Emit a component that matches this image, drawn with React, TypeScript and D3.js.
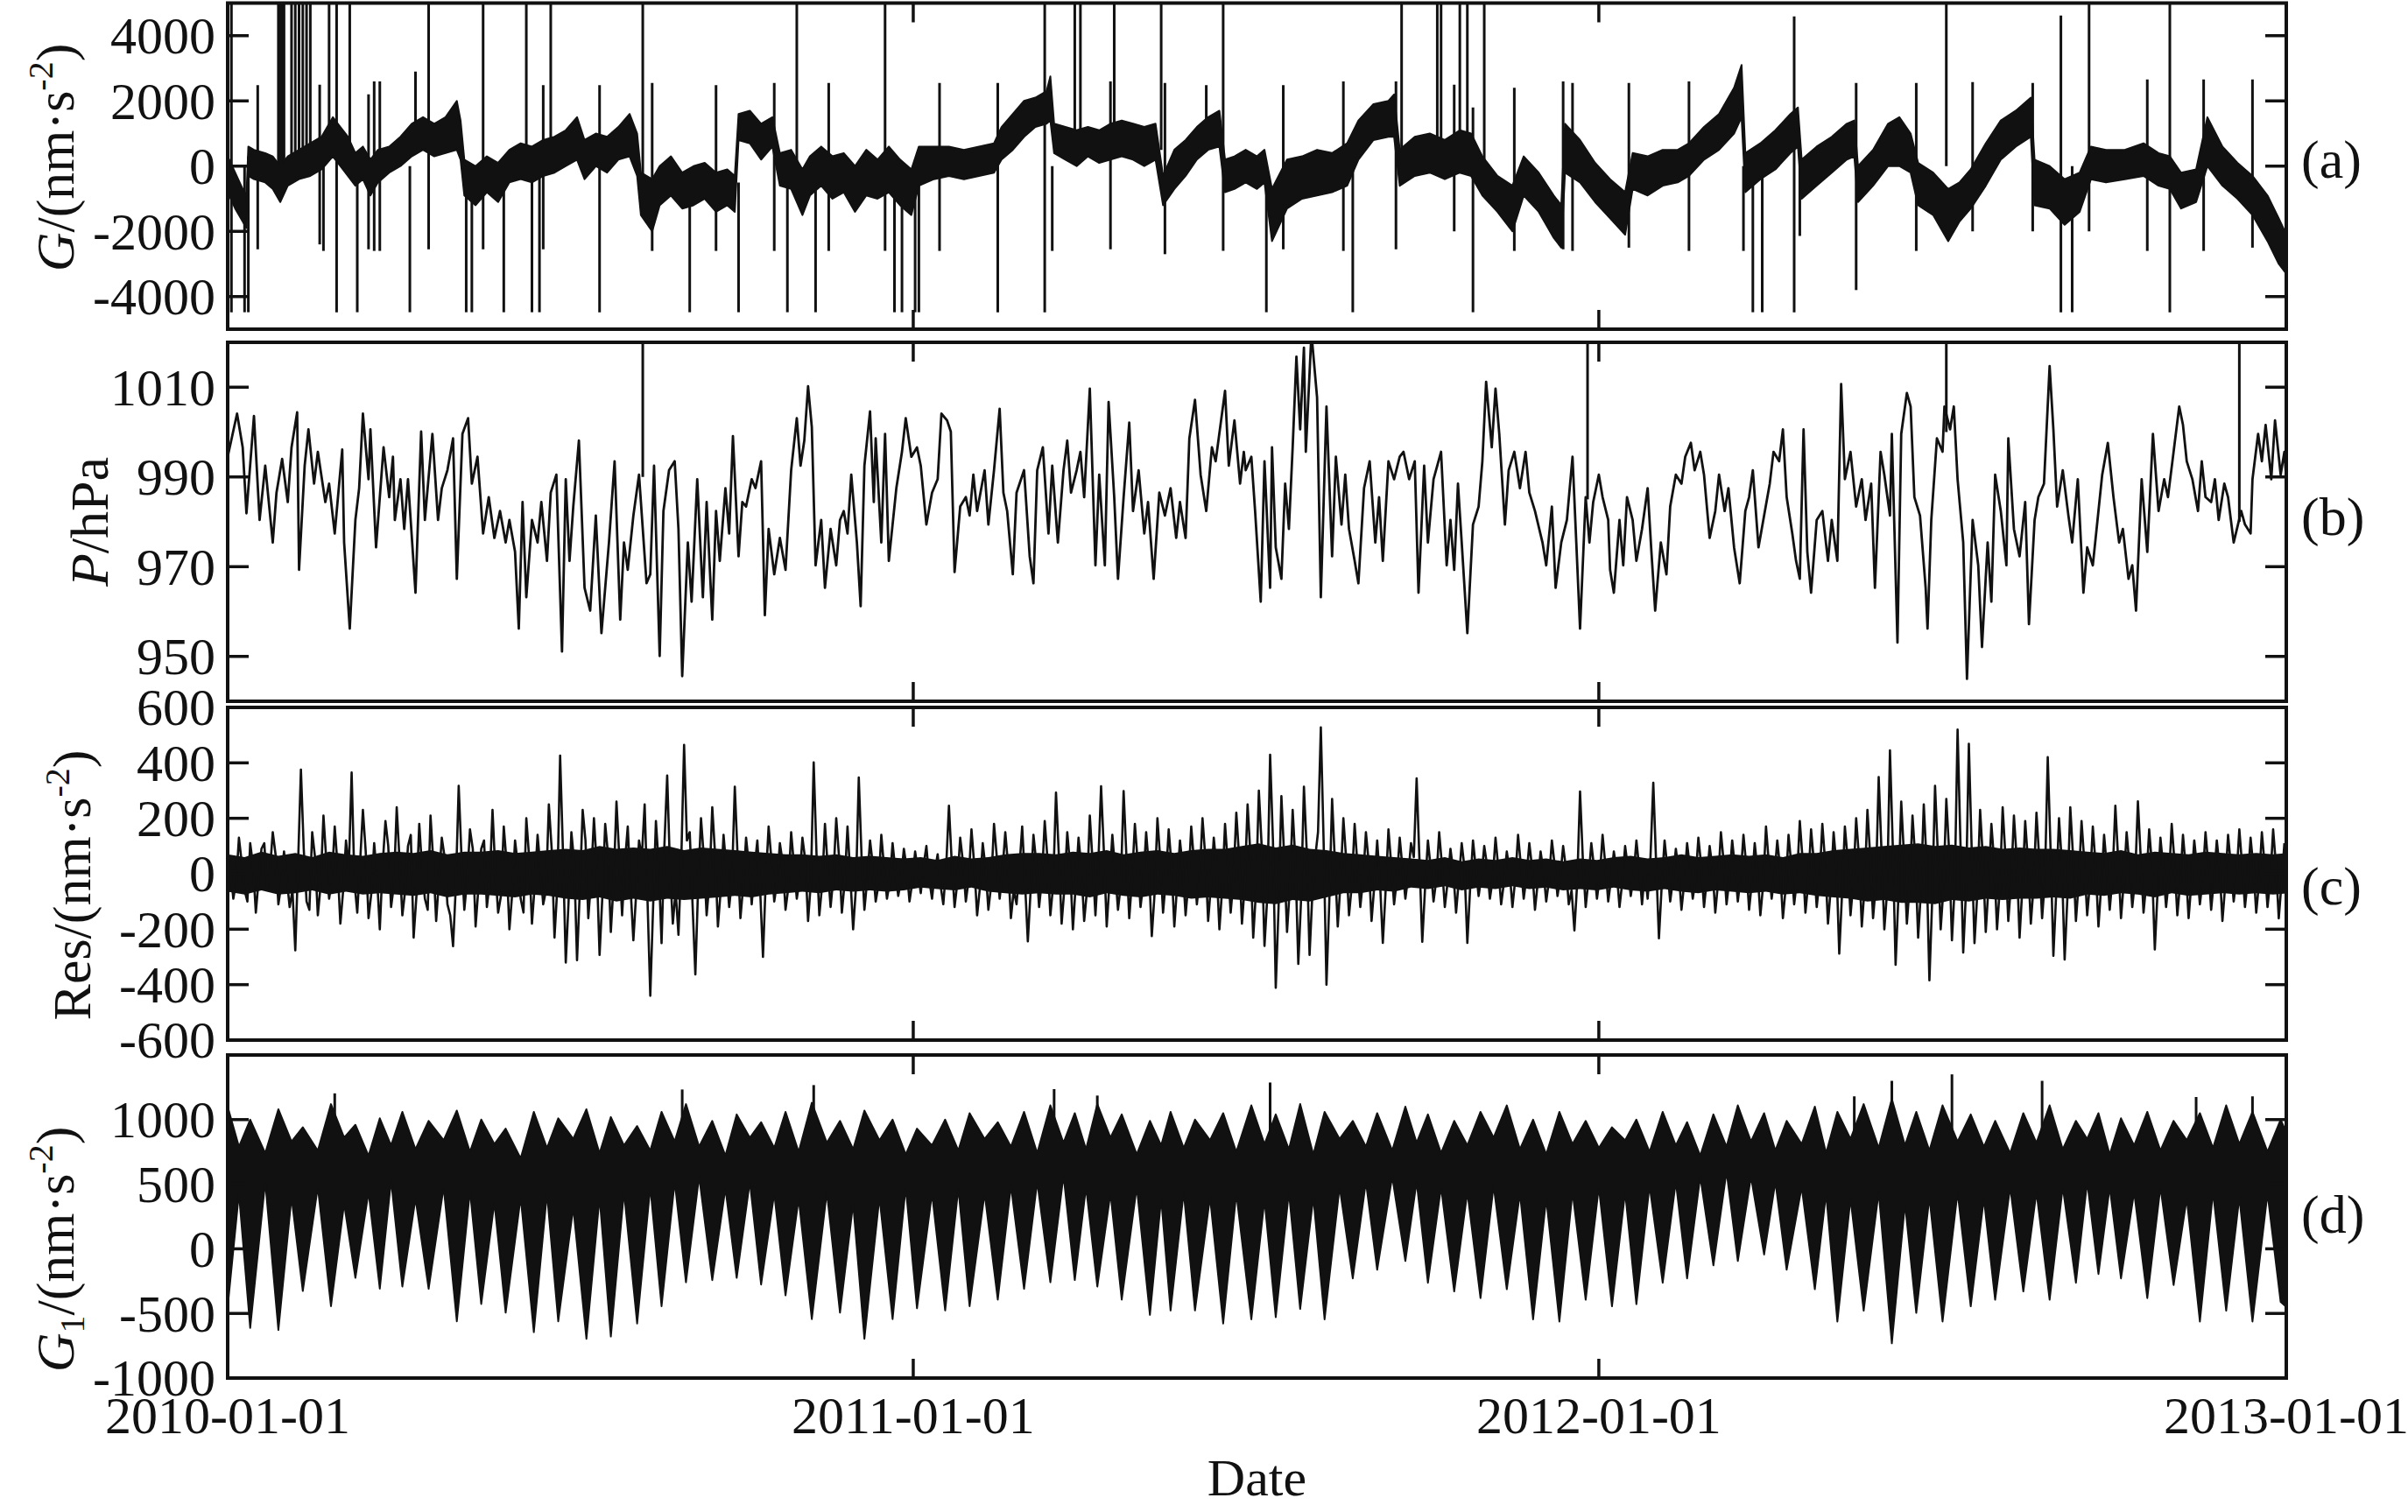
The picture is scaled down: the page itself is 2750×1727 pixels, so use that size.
import React, { useEffect } from 'react';
import * as d3 from 'd3';

// ---------------- data ----------------
const dateTickLabels = ['2010-01-01', '2011-01-01', '2012-01-01', '2013-01-01'];
const gTicks = [-4000, -2000, 0, 2000, 4000];
const pTicks = [950, 970, 990, 1010];
const resTicks = [-600, -400, -200, 0, 200, 400, 600];
const g1Ticks = [-1000, -500, 0, 500, 1000];

// (a) gravity G: band envelope (days since 2010-01-01)
const gDays = [0, 4, 8, 10, 11, 14, 20, 24, 28, 32, 38, 44, 50, 56, 60, 64, 68, 72, 76, 80, 86, 92, 98, 104, 110, 116, 122, 124, 126, 132, 138, 144, 150, 156, 162, 168, 174, 180, 186, 190, 196, 202, 208, 214, 218, 220, 226, 230, 236, 242, 248, 254, 260, 266, 270, 272, 278, 284, 290, 294, 300, 306, 310, 316, 322, 328, 334, 340, 346, 352, 358, 364, 368, 376, 384, 392, 400, 408, 412, 418, 424, 430, 436, 438, 440, 446, 452, 458, 464, 470, 476, 482, 488, 494, 498, 504, 510, 516, 522, 528, 531, 536, 542, 548, 552, 556, 564, 572, 580, 588, 596, 602, 610, 618, 621, 624, 632, 640, 648, 656, 662, 668, 676, 684, 690, 698, 706, 710, 712, 720, 728, 736, 744, 748, 756, 764, 772, 778, 786, 794, 802, 806, 808, 816, 824, 832, 836, 838, 846, 854, 862, 866, 868, 876, 884, 890, 896, 900, 908, 916, 922, 928, 936, 944, 952, 960, 962, 970, 978, 986, 992, 1000, 1010, 1020, 1028, 1034, 1040, 1048, 1054, 1062, 1070, 1078, 1086, 1092, 1096];
const gLow = [-800, -1300, -1700, -1900, -300, -400, -500, -700, -1100, -600, -400, -300, -100, 300, 0, -300, -600, -400, -900, -500, -200, 0, 300, 500, 300, 400, 500, 200, -900, -1200, -800, -1100, -500, -400, -500, -300, -200, 0, 200, -400, 0, -200, 200, 300, -300, -1500, -2000, -1200, -900, -1300, -1200, -1000, -1400, -1200, -1400, 800, 700, 200, 600, -600, -700, -1500, -900, -600, -1000, -800, -1400, -900, -1000, -800, -1200, -1500, -600, -400, -300, -400, -300, -200, 200, 500, 900, 1200, 1300, 1400, 400, 200, 0, 300, 100, 200, 300, 200, 0, 200, -1200, -700, -300, 200, 500, 600, -800, -700, -500, -700, -500, -2300, -1300, -1000, -900, -800, -600, 200, 800, 900, 900, -600, -300, -200, -400, -200, -300, -900, -1400, -2000, -900, -1400, -2200, -2500, -200, -500, -1100, -1600, -2100, -700, -900, -600, -500, -300, 200, 500, 1000, 1500, -800, -400, -100, 400, 600, -1000, -600, -200, 200, 300, -1100, -600, 0, 0, -200, -1200, -1500, -2300, -1700, -1300, -600, 200, 600, 900, -1200, -1300, -1800, -1400, -400, -500, -400, -300, -600, -700, -1300, -1100, 0, -600, -1000, -1500, -2300, -3000, -3300];
const gHigh = [300, -200, -700, -900, 600, 500, 400, 300, 0, 300, 500, 700, 900, 1500, 1200, 900, 400, 600, 200, 500, 600, 900, 1300, 1500, 1300, 1500, 2000, 1400, 200, 0, 300, 100, 500, 700, 600, 800, 900, 1100, 1500, 800, 1000, 900, 1200, 1600, 1000, -200, -400, 0, 300, -200, 0, 100, -200, -100, -300, 1600, 1700, 1300, 1500, 400, 500, -100, 300, 600, 300, 400, 0, 500, 200, 600, 200, -100, 600, 600, 600, 500, 600, 700, 1200, 1600, 2000, 2100, 2300, 2750, 1300, 1200, 1100, 1200, 1100, 1300, 1400, 1300, 1200, 1300, -300, 500, 800, 1200, 1500, 1700, 200, 300, 500, 300, 500, -700, 200, 300, 500, 400, 700, 1400, 1900, 2000, 2200, 500, 900, 1000, 800, 1100, 1000, 300, -300, -600, 300, -200, -900, -1200, 1300, 800, 100, -400, -800, 400, 300, 500, 500, 700, 1200, 1600, 2400, 3100, 400, 700, 1100, 1600, 1800, 200, 600, 900, 1300, 1400, 0, 500, 1300, 1500, 1000, 100, -200, -700, -500, -100, 700, 1400, 1700, 2100, 200, 0, -400, -200, 600, 500, 500, 700, 400, 300, -200, -100, 1500, 600, 100, -300, -900, -1600, -2100];

// (a) spikes: vertical lines from low to high
const gSpikeDays = [2, 9, 11, 16, 27, 28, 29, 30, 34, 36,
  38, 40, 42, 44, 49, 51, 54, 58, 65, 69,
  75, 78, 81, 97, 100, 107, 127, 130, 136, 147,
  159, 162, 166, 168, 172, 198, 221, 226, 246, 260,
  272, 291, 298, 303, 313, 320, 350, 355, 359, 366,
  368, 379, 410, 435, 439, 451, 454, 470, 472, 497,
  499, 521, 530, 553, 562, 594, 599, 622, 625, 644,
  646, 653, 656, 660, 663, 669, 685, 711, 716, 746,
  778, 807, 812, 817, 834, 837, 867, 899, 915, 929,
  961, 976, 982, 991, 1022, 1034, 1052, 1078];
const gSpikeLow = [-4480, -4480, -4480, -2550, 0, 0, 0, 0, 0, 0,
  0, 0, 0, 300, -2400, -2600, 500, -4480, 500, -4480,
  -2550, -2600, -2600, -4480, 500, -2550, -4480, -4480, -2550, -4480,
  0, -4480, -4480, -2550, 0, -4480, -800, -2600, -4480, -2600,
  -4480, -2600, -4480, 0, -4480, -2600, -2600, -4480, -4480, -4480,
  -4480, -2600, -4480, -4480, -2600, 500, 500, -2550, 500, 500,
  -2700, 500, -2600, -4480, -2550, -2600, -4480, -2550, 500, 300,
  300, -2000, 300, 300, -4480, 0, -2600, -2550, -2600, -2500,
  -2600, -2600, -4480, -4480, -4480, -2140, -3800, -2600, 0, -2000,
  -2000, -4480, -4480, -2000, -2600, -4480, -2600, -2500];
const gSpikeHigh = [5000, 0, 300, 2480, 5000, 5000, 5000, 5000, 5000, 5000,
  5000, 5000, 5000, 5000, 2500, 600, 5000, 5000, 5000, 0,
  2200, 2600, 2600, 0, 2900, 5000, -500, -500, 5000, -500,
  5000, 0, 0, 2480, 5000, 2480, 5000, 2550, -500, 2480,
  -500, 2550, -500, 5000, 0, 2550, 5000, 0, 0, -500,
  -500, 2550, 2550, 5000, 0, 5000, 5000, 2600, 5000, 5000,
  2550, 2480, 5000, 0, 2480, 2600, 0, 2600, 5000, 5000,
  5000, 2500, 5000, 5000, 1800, 5000, 2400, 2600, 2550, 2550,
  2600, 0, 0, 0, 4590, 0, 2550, 2550, 5000, 2580,
  2550, 4620, 0, 5000, 2660, 5000, 2660, 2660];

// (b) air pressure P (hPa)
const pDays = [0, 5, 8, 10, 14, 17, 20, 24, 26, 29, 32, 34, 37, 38, 41, 43, 46, 48, 52, 54, 57, 61, 62, 65, 68, 70, 72, 75, 76, 79, 83, 86, 88, 89, 92, 94, 96, 100, 103, 105, 109, 112, 114, 117, 120, 122, 125, 128, 130, 133, 136, 139, 142, 145, 148, 150, 153, 155, 157, 159, 162, 165, 167, 170, 172, 175, 178, 180, 182, 184, 187, 190, 193, 196, 199, 201, 203, 206, 209, 211, 213, 216, 219, 223, 225, 227, 230, 232, 235, 238, 240, 242, 245, 247, 250, 253, 255, 258, 260, 262, 265, 267, 269, 272, 274, 276, 279, 281, 284, 286, 288, 291, 294, 297, 300, 303, 305, 307, 309, 311, 313, 316, 318, 321, 324, 326, 328, 330, 332, 335, 337, 339, 342, 344, 345, 348, 350, 352, 356, 359, 361, 364, 367, 369, 372, 375, 378, 380, 383, 385, 387, 390, 393, 395, 397, 399, 403, 405, 408, 411, 413, 415, 418, 420, 424, 427, 429, 431, 434, 437, 439, 442, 445, 447, 449, 452, 454, 456, 459, 462, 464, 467, 469, 472, 474, 477, 480, 482, 485, 488, 490, 493, 496, 499, 502, 505, 507, 510, 512, 515, 518, 521, 524, 526, 531, 533, 536, 539, 541,
  542, 545, 547, 550, 552, 555, 556, 558, 561, 563, 565, 567, 569, 571, 573, 574, 577, 580, 582, 585, 588, 590, 593, 595, 597, 600, 602, 605, 608, 611, 613, 615, 618, 621, 624, 626, 629, 632, 634, 637, 639, 642, 646, 649, 651, 653, 655, 657, 660, 663, 666, 668, 670, 673, 675, 677, 680, 682, 685, 688, 691, 693, 696, 700, 702, 705, 707, 710, 713, 716, 718, 720, 723, 725, 727, 730, 732, 735, 736, 738, 741, 743, 745, 748, 750, 753, 756, 758, 760, 763, 766, 768, 771, 774, 776, 779, 781, 784, 786, 789, 792, 794, 797, 799, 802, 805, 808, 810, 812, 815, 818, 821, 823, 826, 828, 830, 833, 835, 837, 839, 841, 843, 846, 849, 852, 854, 857, 859, 861, 864, 867, 870, 872, 875, 877, 880, 882, 885, 886, 889, 891, 894, 896, 898, 901, 904, 905, 907, 910, 913, 914, 917, 919, 921, 924, 926, 929, 932, 934, 937, 939, 941, 944, 947, 948, 951, 954, 957, 959, 962, 964, 967, 970, 972, 974, 977, 980, 982, 985, 988, 990, 993, 996, 998, 1001, 1004, 1007, 1009, 1012, 1014, 1016, 1019, 1022, 1025, 1028, 1031, 1033, 1036, 1039, 1041, 1043, 1046, 1049, 1051, 1053, 1056, 1058, 1060, 1063, 1065, 1068, 1072, 1074, 1077, 1078, 1081, 1083, 1085, 1088, 1090, 1093, 1095, 1096];
const pVals = [994.5, 1004.1, 996.6, 981.9, 1003.6, 980.4, 992.5, 975.4, 986.5, 994, 984.4, 996.6, 1004.4, 969.3, 992.5, 1000.6, 988.5, 995.6, 984.4, 988.5, 977.4, 996.1, 975.4, 956.2, 980.4, 987.5, 1004.1, 989.5, 1000.6, 974.3, 996.6, 985.5, 994.5, 980.4, 989.5, 978.4, 989.5, 964.2, 1000.1, 980.4, 999.6, 980.4, 987.5, 991.5, 998.6, 967.3, 999.6, 1003.1, 988.5, 994.5, 977.4, 985.5, 976.4, 982.4, 975.4, 980.4, 973.3, 956.2, 984.4, 963.2, 980.4, 975.4, 984.4, 971.3, 986.5, 990.5, 951.1, 989.5, 971.3, 983.4, 998.1, 965.3, 960.2, 981.4, 955.2, 965.3, 975.4, 993.5, 958.2, 975.4, 969.3, 981.4, 990.5, 966.3, 968.3, 992.5, 950.1, 982.4, 991.5, 993.5, 978.4, 945.6, 975.4, 962.2, 989.5, 963.2, 984.4, 958.2, 982.4, 971.3, 987.5, 977.4, 999.1, 972.3, 984.4, 983.4, 989.5, 987.5, 993.5, 959.2, 978.4, 968.3, 976.4, 969.3, 991.5, 1003.1, 992.5, 998.1, 1010.2, 1001.1, 970.3, 980.4, 965.3, 978.4, 970.3, 980.4, 982.4, 977.4, 990.5, 975.4, 961.2, 992.5, 1004.6, 984.4, 998.6, 975.4, 999.6, 971.3, 987.5, 995.6, 1003.1, 994.5, 996.6, 992.5, 979.4, 986.5, 989.5, 1004.1, 1002.6, 1000.1, 968.8, 983.4, 985.5, 981.4, 990.5, 982.4, 991.5, 979.4, 991.5, 1005.2, 986.5, 982.4, 968.3, 986.5, 991.5, 972.3, 966.3, 991.5, 996.6, 977.4, 992.5, 975.4, 991.5, 998.1, 986.5, 991.5, 995.6, 985.5, 1009.7, 970.3, 990.5, 970.3, 1006.7, 985.5, 967.3, 985.5, 1002.1, 982.4, 991.5, 977.4, 984.4, 967.3, 986.5, 981.4, 987.5, 976.4, 984.4, 976.4, 998.6, 1007.2, 990.5, 982.4, 996.6, 993.5, 1009.2, 992.5, 1002.6, 988.5, 995.6,
  991.5, 994.5, 982.4, 962.2, 993.5, 965.3, 996.6, 974.3, 967.3, 988.5, 978.4, 996.6, 1016.8, 1000.6, 1018.8, 995.6, 1022, 1007.7, 963.2, 1005.7, 972.3, 994.5, 979.4, 990.5, 978.4, 971.3, 966.3, 987.5, 993.5, 975.4, 985.5, 971.3, 993.5, 989.5, 994.5, 995.6, 989.5, 993.5, 964.2, 992.5, 975.4, 989.5, 995.6, 970.3, 980.4, 969.3, 988.5, 975.4, 955.2, 979.4, 983.4, 993.5, 1011.2, 996.6, 1009.7, 999.6, 979.4, 991.5, 995.6, 987.5, 995.6, 986.5, 982.4, 975.4, 970.3, 983.4, 965.3, 975.4, 980.4, 994.5, 975.4, 956.2, 985.5, 975.4, 984.4, 990.5, 985.5, 980.4, 969.3, 964.2, 980.4, 970.3, 985.5, 980.4, 971.3, 978.4, 987.5, 973.3, 960.2, 975.4, 968.3, 983.4, 990.5, 988.5, 994.5, 997.6, 991.5, 995.6, 990.5, 976.4, 982.4, 990.5, 982.4, 987.5, 974.3, 966.3, 982.4, 985.5, 991.5, 974.3, 981.4, 988.5, 995.6, 993.5, 1000.6, 985.5, 977.4, 971.3, 967.3, 1000.6, 973.3, 964.2, 980.4, 982.4, 971.3, 980.4, 971.3, 1010.7, 989.5, 995.6, 983.4, 989.5, 980.4, 988.5, 965.3, 995.6, 990.5, 981.4, 999.6, 953.1, 999.6, 1008.7, 1005.7, 985.5, 981.4, 965.3, 956.2, 980.4, 998.6, 995.6, 1005.7, 1000.6, 1005.7, 989.5, 975.4, 945, 980.4, 970.3, 952.1, 975.4, 962.2, 990.5, 982.4, 970.3, 998.6, 978.4, 972.3, 984.4, 957.2, 980.4, 985.5, 988.5, 1014.7, 1000.6, 983.4, 991.5, 981.4, 975.4, 989.5, 964.2, 974.3, 970.3, 982.4, 990.5, 997.6, 985.5, 975.4, 978.4, 967.3, 970.3, 960.2, 989.5, 973.3, 999.6, 982.4, 989.5, 985.5, 995.6, 1005.7, 1001.6, 993.5, 989.5, 982.4, 993.5, 985.5, 984.4, 989.5, 980.4, 988.5, 985.5, 975.4, 982.4, 979.4, 977.4, 989.5, 999.6, 993.5, 1001.6, 989.5, 1002.6, 990.5, 995.6, 989.5];
const pSpikeDays = [221, 724, 915, 1071];
const pSpikeLow = [990, 985, 1000, 980];
const pSpikeHigh = [1025, 1025, 1025, 1025];

// (c) residual Res, one value every 1.5 days from 2010-01-01
const RES_STEP_DAYS = 1.5;
const resVals = [
  60, 20, -90, -30, 130, 40, -60, -100, 110, 30, -140, -20, 90, 110, -50, 10, 150, 70, -110, -40,
  80, -20, -120, -60, -276, 40, 376, 90, -100, -130, 150, 60, -150, -40, 210, 50, -90, -20, 170, 30,
  -180, -60, 120, 20, 365, -30, -140, 40, 230, 80, -160, -70, 110, -10, -200, 30, 190, 100, -120, -40,
  240, 50, -150, -60, 100, 140, -230, -80, 180, 20, -90, -130, 210, 40, -170, -20, 130, 60, -110, -150,
  -261, -40, 317, 60, -130, -20, 160, 90, -190, -50, 90, 120, -120, -30, 230, 10, -140, -80, 170, 40,
  -200, -70, 120, 30, -90, -140, 200, 60, -180, -40, 140, 20, -110, -60, 250, 90, -230, -50, 426, 80,
  -320, -100, 150, 40, -312, -60, 230, 120, -160, -20, 200, 30, -293, -80, 180, 70, -210, -30, 260, 60,
  -150, 40, 170, -50, -240, -70, 120, 60, 250, -90, -440, -120, 190, 30, -250, 100, 354, 20, -180, -60,
  -220, 50, 465, 120, 150, -110, -363, -40, 200, 60, -150, -30, 240, 70, -190, -60, 140, 20, -120, -20,
  314, 60, -160, -40, 130, 30, -110, 20, 120, -60, -300, -20, 170, 50, -100, -30, 110, 40, -130, -50,
  150, 30, -90, -20, 130, 50, -170, -30, 402, 70, -150, -40, 180, 20, -120, -10, 200, 60, -140, -30,
  170, -10, -200, -50, 347, 60, -130, -20, 120, 30, -100, -40, 140, 20, -90, -30, 110, 10, -80, -20,
  90, 20, -100, -30, 80, 10, -70, 30, 100, -20, -90, 10, 70, -40, -110, 20, 245, 40, -120, -30,
  130, 40, -100, -20, 160, 30, -150, -50, 110, 20, -130, -40, 180, 60, -90, 10, 150, 30, -160, -60,
  -110, 20, 170, -30, -244, -60, 140, 40, -120, -20, 190, 50, -150, -40, 293, 70, -180, -50, 150, 30,
  -200, -40, 130, 20, -170, -60, 210, 40, -150, 30, 316, 80, -190, -30, 140, 10, -130, -40, 298, 60,
  -160, -20, 180, 40, -120, -30, 150, 20, -225, -70, 200, 50, -140, -20, 160, 30, -190, -40, 120, 20,
  -150, -30, 170, 40, -110, -10, 200, 60, -170, -40, 130, 20, -200, -50, 180, 30, -140, -20, 220, 60,
  -180, -40, 250, 70, -230, -60, 300, 100, -260, -80, 429, 120, -411, -120, 280, 60, -210, -50, 230, 40,
  -325, -90, 314, 80, -293, -70, 60, 150, 528, 110, -400, -100, 270, 40, -190, -30, 200, 50, -150, -40,
  180, 30, -120, -20, 150, 40, -170, -40, 120, -30, -249, -60, 160, 30, -110, -20, 130, 20, -90, -10,
  110, 60, 344, 50, -245, -50, 120, 20, -100, -20, 150, 30, -120, -30, 90, 10, -140, -20, 110, 20,
  -249, -50, 120, 20, -80, -10, 100, 30, -90, -20, 130, 20, -110, -30, 80, 10, -120, -20, 140, 30,
  -90, -10, 110, 20, -130, -30, 80, 10, -100, -20, 120, 30, -80, -10, 100, 20, -110, -60, -204, -30,
  297, 50, -120, -20, 110, 20, -90, -10, 140, 30, -100, -20, 80, 10, -120, -30, 100, 20, -80, -10,
  120, 20, -110, 10, -90, 60, 328, 40, -233, -40, 120, 20, -100, -20, 90, 10, -130, -30, 110, 20,
  -90, -20, 130, 30, -120, -20, 100, 20, -140, -30, 150, 40, -110, -20, 120, 20, -100, -10, 140, 30,
  -130, -30, 110, 10, -150, -40, 170, 40, -90, -10, 120, 20, -160, -50, 140, 30, -110, -20, 190, 50,
  -140, -30, 160, 40, -120, -20, 180, 40, -180, -50, 150, 30, -288, -70, 170, 50, -150, -30, 200, 60,
  -190, -50, 230, 60, -160, -40, 349, 80, -200, -60, 445, 100, -328, -80, 260, 60, -180, -40, 210, 50,
  -230, -60, 250, 40, -384, -90, 317, 70, -200, -50, 270, 80, -240, -40, 520, 120, -284, -60, 469, 90,
  -250, -70, 230, 50, -210, -40, 180, 40, -200, -50, 240, 60, -170, -30, 210, 50, -230, -50, 190, 40,
  -180, -40, 220, 50, -160, -20, 421, 90, -296, -70, 200, 40, -309, -80, 240, 60, -170, -30, 190, 40,
  -150, -30, 170, 30, -190, -40, 140, 20, -130, -10, 245, 50, -160, -30, 150, 30, -120, -20, 261, 60,
  -140, -30, 160, 30, -273, -60, 130, 20, -120, -20, 180, 40, -150, -30, 140, 20, -160, -30, 120, 20,
  -110, -20, 150, 30, -130, -20, 120, 20, -170, -40, 140, 30, -100, -10, 160, 30, -120, -20, 130, 20,
  -140, -30, 150, 30, -120, -20, 160, 30, -161, -30, 110];

// (c) dense core of the residual trace: envelope every 9 days
const RES_CORE_STEP_DAYS = 9;
const resCoreHigh = [
  70, 60, 80, 65, 75, 60, 80, 70, 65, 75,
  80, 75, 85, 70, 80, 80, 85, 75, 80, 85,
  90, 85, 100, 90, 95, 90, 100, 85, 95, 90,
  85, 80, 75, 70, 70, 65, 70, 60, 65, 60,
  55, 60, 50, 65, 55, 60, 70, 75, 75, 70,
  80, 75, 85, 70, 80, 85, 75, 85, 90, 90,
  100, 110, 95, 105, 90, 85, 75, 70, 65, 60,
  55, 50, 60, 45, 55, 50, 60, 50, 55, 45,
  55, 50, 60, 65, 55, 60, 70, 60, 65, 70,
  65, 70, 60, 75, 75, 85, 90, 95, 100, 105,
  110, 100, 105, 95, 100, 90, 95, 90, 90, 85,
  80, 75, 85, 70, 80, 75, 70, 80, 75, 70,
  75, 70, 75];
const resCoreLow = [
  -65, -75, -60, -75, -70, -60, -75, -65, -75, -70,
  -75, -80, -70, -85, -75, -75, -80, -85, -75, -80,
  -90, -95, -85, -100, -90, -100, -90, -95, -90, -85,
  -80, -85, -75, -70, -65, -70, -60, -65, -60, -65,
  -60, -50, -55, -60, -50, -65, -70, -75, -70, -75,
  -75, -85, -70, -80, -85, -75, -80, -90, -85, -90,
  -95, -105, -110, -95, -100, -85, -70, -70, -60, -65,
  -50, -55, -45, -60, -50, -55, -45, -55, -50, -60,
  -55, -60, -50, -60, -65, -55, -65, -70, -60, -65,
  -70, -65, -75, -70, -80, -85, -90, -100, -95, -105,
  -105, -110, -95, -100, -90, -95, -90, -90, -85, -90,
  -75, -80, -70, -75, -85, -70, -80, -75, -70, -75,
  -70, -75, -70];

// (d) G1: envelope at spring / neap tides
const g1Days = [0, 6, 12, 20, 27, 34, 40, 48, 55, 62, 68, 75, 81, 87, 93, 100, 107, 115, 122, 129, 135, 142, 148, 156, 163, 170, 176, 184, 191, 198, 204, 211, 218, 225, 231, 238, 244, 251, 258, 265, 271, 278, 284, 291, 297, 304, 311, 319, 326, 333, 339, 347, 354, 361, 367, 375, 382, 389, 395, 403, 410, 417, 424, 431, 438, 445, 451, 457, 463, 470, 476, 484, 491, 497, 502, 509, 515, 523, 530, 537, 545, 552, 558, 565, 571, 578, 584, 592, 599, 606, 612, 620, 627, 633, 639, 646, 653, 660, 667, 674, 681, 688, 695, 702, 709, 716, 723, 730, 737, 744, 750, 757, 764, 771, 777, 784, 791, 798, 804, 811, 818, 824, 830, 838, 845, 851, 857, 864, 871, 879, 886, 893, 899, 906, 913, 921, 928, 935, 941, 949, 956, 963, 970, 977, 984, 990, 996, 1002, 1008, 1015, 1022, 1029, 1036, 1043, 1050, 1057, 1064, 1071, 1078, 1086, 1093, 1096];
const g1Low = [-450, 430, -612, 520, -628, 400, -326, 480, -444, 350, -225, 440, -309, 530, -292, 390, -309, 480, -561, 450,
  -427, 360, -494, 400, -645, 430, -561, 320, -696, 400, -679, 440, -578, 480, -444, 520, -259, 560, -242, 470,
  -225, 520, -276, 430, -360, 390, -544, 440, -494, 350, -696, 400, -544, 480, -460, 430, -477, 470, -444, 430,
  -393, 490, -309, 520, -259, 570, -242, 480, -292, 430, -393, 480, -511, 390, -477, 440, -477, 400, -578, 430,
  -546, 380, -529, 440, -465, 400, -546, 480, -229, 520, -162, 560, -94, 520, -263, 480, -330, 440, -381, 490,
  -313, 430, -546, 390, -563, 440, -394, 480, -445, 440, -428, 490, -263, 520, -229, 560, -128, 600, -94, 560,
  -44, 520, -162, 480, -313, 430, -563, 390, -479, 440, -731, 350, -496, 400, -563, 440, -445, 390, -394, 480,
  -330, 440, -394, 480, -263, 520, -195, 480, -229, 440, -381, 480, -280, 390, -563, 440, -479, 400, -563, 430,
  -411, -450];
const g1High = [1100, 790, 1000, 740, 1080, 830, 940, 760, 1120, 860, 960, 720, 1010, 800, 1060, 770, 990, 840, 1070, 750,
  1000, 810, 930, 700, 1060, 780, 1010, 850, 1080, 740, 1020, 800, 950, 760, 1060, 830, 1120, 790, 990, 720,
  1040, 860, 980, 780, 1060, 750, 1130, 820, 990, 770, 1070, 840, 1000, 730, 930, 800, 1000, 760, 1050, 850,
  980, 790, 1060, 740, 1110, 820, 1050, 770, 1120, 860, 1040, 730, 990, 800, 1060, 780, 1000, 840, 1050, 750,
  1110, 810, 1040, 770, 1120, 730, 1060, 850, 990, 790, 1050, 760, 1100, 820, 1040, 740, 990, 800, 1060, 860,
  1110, 770, 1000, 730, 1060, 810, 990, 780, 940, 840, 1000, 750, 1060, 800, 980, 720, 1040, 790, 1110, 830,
  1050, 760, 990, 810, 1100, 740, 1060, 850, 1120, 780, 1160, 800, 1060, 760, 1110, 830, 1040, 790, 990, 740,
  1050, 820, 1110, 770, 990, 850, 1050, 730, 1010, 800, 1060, 760, 990, 840, 1050, 780, 1110, 810, 1060, 750,
  1000, 900];
const g1SpikeDays = [57, 242, 312, 440, 463, 555, 866, 886, 918, 966, 1048, 1078];
const g1SpikeLow = [800, 800, 800, 800, 800, 800, 800, 800, 800, 800, 800, 800];
const g1SpikeHigh = [1203, 1233, 1267, 1236, 1186, 1287, 1180, 1300, 1350, 1300, 1175, 1180];

// ---------------- layout ----------------
const W = 2750;
const H = 1727;
const X0 = 260;
const X1 = 2611;
const FONT = "'Liberation Serif', 'Times New Roman', Times, serif";
const INK = '#111';
const T0 = Date.UTC(2010, 0, 1);
const dayDate = (d: number) => new Date(T0 + d * 86400000);
const x = d3.scaleUtc().domain([new Date(T0), new Date(Date.UTC(2013, 0, 1))]).range([X0, X1]);
const dateTicks = dateTickLabels.map((s) => new Date(s + 'T00:00:00Z'));

type PanelDef = {
  id: string;
  top: number;
  bottom: number;
  domain: [number, number];
  ticks: number[];
  label: string;
  labelY: number;
};

const panelDefs: PanelDef[] = [
  { id: 'a', top: 3.5, bottom: 376, domain: [-5000, 5000], ticks: gTicks, label: '(a)', labelY: 203 },
  { id: 'b', top: 391, bottom: 801, domain: [940, 1020], ticks: pTicks, label: '(b)', labelY: 611 },
  { id: 'c', top: 808, bottom: 1188, domain: [-600, 600], ticks: resTicks, label: '(c)', labelY: 1033 },
  { id: 'd', top: 1205, bottom: 1574, domain: [-1000, 1500], ticks: g1Ticks, label: '(d)', labelY: 1408 },
];

const yScale = (p: PanelDef) => d3.scaleLinear().domain(p.domain).range([p.bottom, p.top]);

function Frame({ p }: { p: PanelDef }) {
  const y = yScale(p);
  return (
    <g>
      {p.ticks.map((t) => (
        <g key={'yt' + t}>
          <line x1={X0} x2={X0 + 24} y1={y(t)} y2={y(t)} stroke={INK} strokeWidth={3.5} />
          <line x1={X1 - 24} x2={X1} y1={y(t)} y2={y(t)} stroke={INK} strokeWidth={3.5} />
          <text x={246} y={y(t)} dy="0.34em" textAnchor="end" fontSize={60} fontFamily={FONT} fill={INK}>
            {String(t)}
          </text>
        </g>
      ))}
      {dateTicks.map((d, i) => (
        <g key={'xt' + i}>
          <line x1={x(d)} x2={x(d)} y1={p.top} y2={p.top + 22} stroke={INK} strokeWidth={3.5} />
          <line x1={x(d)} x2={x(d)} y1={p.bottom - 22} y2={p.bottom} stroke={INK} strokeWidth={3.5} />
        </g>
      ))}
      <rect x={X0} y={p.top} width={X1 - X0} height={p.bottom - p.top} fill="none" stroke={INK} strokeWidth={4} />
      <text x={2628} y={p.labelY} fontSize={62} fontFamily={FONT} fill={INK}>
        {p.label}
      </text>
    </g>
  );
}

function Spikes({ p, days, lo, hi, w }: { p: PanelDef; days: number[]; lo: number[]; hi: number[]; w: number }) {
  const y = yScale(p);
  return (
    <g>
      {days.map((d, i) => (
        <line key={i} x1={x(dayDate(d))} x2={x(dayDate(d))} y1={y(lo[i])} y2={y(hi[i])} stroke={INK} strokeWidth={w} />
      ))}
    </g>
  );
}

export default function App() {
  useEffect(() => {
    document.body.style.margin = '0';
    document.body.style.overflow = 'hidden';
  }, []);

  const [pa, pb, pc, pd] = panelDefs;
  const ya = yScale(pa);
  const yb = yScale(pb);
  const yc = yScale(pc);
  const yd = yScale(pd);

  const bandA = d3
    .area<number>()
    .x((d) => x(dayDate(d)))
    .y0((_, i) => ya(gLow[i]))
    .y1((_, i) => ya(gHigh[i]))(gDays) as string;

  const lineB = d3
    .line<number>()
    .x((d) => x(dayDate(d)))
    .y((_, i) => yb(pVals[i]))(pDays) as string;

  const lineC = d3
    .line<number>()
    .x((_, i) => x(dayDate(i * RES_STEP_DAYS)))
    .y((v) => yc(v))(resVals) as string;

  const coreC = d3
    .area<number>()
    .x((_, i) => x(dayDate(i * RES_CORE_STEP_DAYS)))
    .y0((_, i) => yc(resCoreLow[i]))
    .y1((v) => yc(v))(resCoreHigh) as string;

  const bandD = d3
    .area<number>()
    .x((d) => x(dayDate(d)))
    .y0((_, i) => yd(g1Low[i]))
    .y1((_, i) => yd(g1High[i]))(g1Days) as string;

  return (
    <svg width={W} height={H} style={{ display: 'block', background: '#fff' }} xmlns="http://www.w3.org/2000/svg">
      <defs>
        {panelDefs.map((p) => (
          <clipPath id={'clip-' + p.id} key={p.id}>
            <rect x={X0} y={p.top} width={X1 - X0} height={p.bottom - p.top} />
          </clipPath>
        ))}
      </defs>
      <rect x={0} y={0} width={W} height={H} fill="#fff" />

      <g clipPath="url(#clip-a)">
        <Spikes p={pa} days={gSpikeDays} lo={gSpikeLow} hi={gSpikeHigh} w={3} />
        <path d={bandA} fill={INK} stroke={INK} strokeWidth={2} strokeLinejoin="round" />
      </g>
      <g clipPath="url(#clip-b)">
        <Spikes p={pb} days={pSpikeDays} lo={pSpikeLow} hi={pSpikeHigh} w={3} />
        <path d={lineB} fill="none" stroke={INK} strokeWidth={2.8} strokeLinejoin="round" />
      </g>
      <g clipPath="url(#clip-c)">
        <path d={coreC} fill={INK} stroke="none" />
        <path d={lineC} fill="none" stroke={INK} strokeWidth={2.6} strokeLinejoin="round" />
      </g>
      <g clipPath="url(#clip-d)">
        <Spikes p={pd} days={g1SpikeDays} lo={g1SpikeLow} hi={g1SpikeHigh} w={3} />
        <path d={bandD} fill={INK} stroke={INK} strokeWidth={2} strokeLinejoin="round" />
      </g>

      {panelDefs.map((p) => (
        <Frame key={p.id} p={p} />
      ))}

      {/* axis titles */}
      <text transform="translate(84,180) rotate(-90)" textAnchor="middle" fontSize={62} fontFamily={FONT} fill={INK}>
        <tspan fontStyle="italic">G</tspan>
        <tspan>/(nm·s</tspan>
        <tspan dy={-24} fontSize={40}>-2</tspan>
        <tspan dy={24}>)</tspan>
      </text>
      <text transform="translate(123,596) rotate(-90)" textAnchor="middle" fontSize={62} fontFamily={FONT} fill={INK}>
        <tspan fontStyle="italic">P</tspan>
        <tspan>/hPa</tspan>
      </text>
      <text transform="translate(103,1011) rotate(-90)" textAnchor="middle" fontSize={62} fontFamily={FONT} fill={INK}>
        <tspan>Res/(nm·s</tspan>
        <tspan dy={-24} fontSize={40}>-2</tspan>
        <tspan dy={24}>)</tspan>
      </text>
      <text transform="translate(84,1427) rotate(-90)" textAnchor="middle" fontSize={62} fontFamily={FONT} fill={INK}>
        <tspan fontStyle="italic">G</tspan>
        <tspan dy={12} fontSize={40}>1</tspan>
        <tspan dy={-12}>/(nm·s</tspan>
        <tspan dy={-24} fontSize={40}>-2</tspan>
        <tspan dy={24}>)</tspan>
      </text>

      {/* date tick labels */}
      {dateTicks.map((d, i) => (
        <text key={'dl' + i} x={x(d)} y={1637} textAnchor="middle" fontSize={60} fontFamily={FONT} fill={INK}>
          {dateTickLabels[i]}
        </text>
      ))}
      <text x={(X0 + X1) / 2} y={1708} textAnchor="middle" fontSize={60} fontFamily={FONT} fill={INK}>
        Date
      </text>
    </svg>
  );
}
